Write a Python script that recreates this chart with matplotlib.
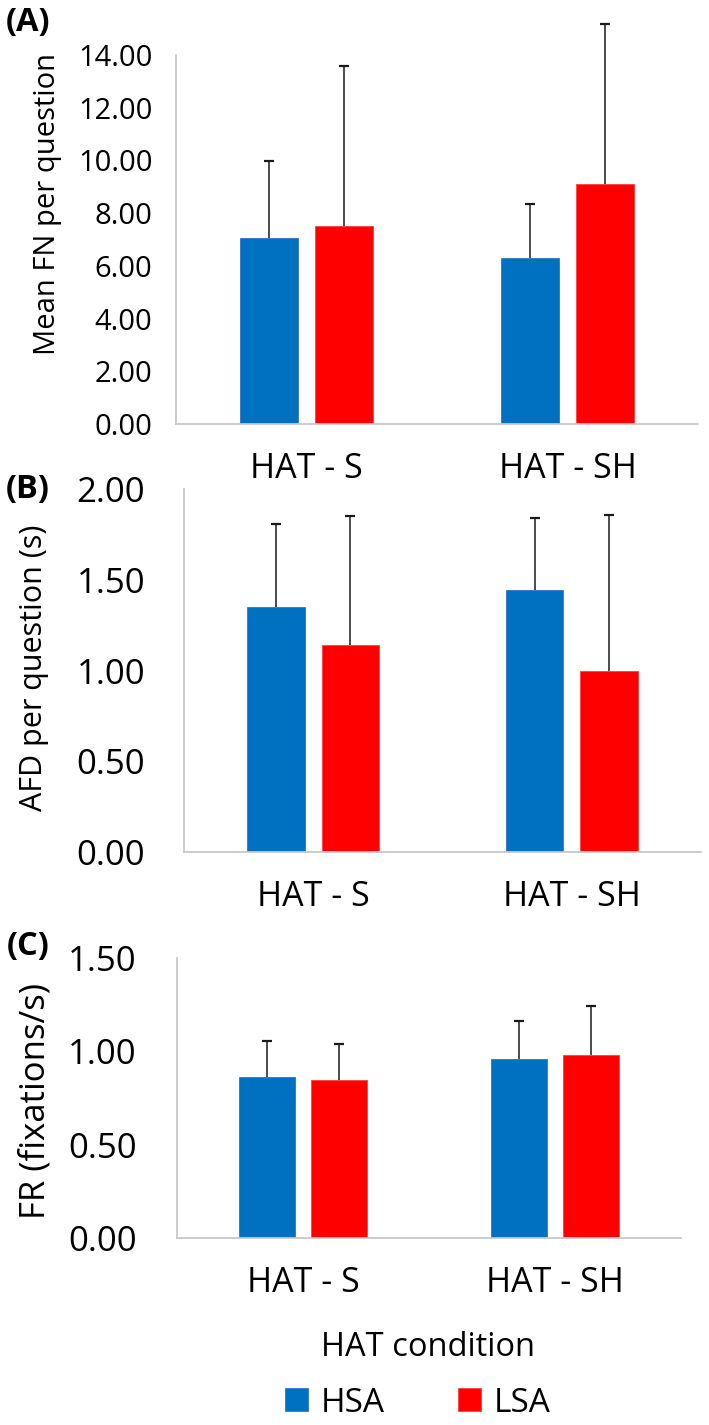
import numpy as np
import matplotlib
matplotlib.use("Agg")
import matplotlib.pyplot as plt

# ---------------- data ----------------
categories = ["HAT - S", "HAT - SH"]
groups = ["HSA", "LSA"]

fn_hsa = [7.05, 6.30]
fn_lsa = [7.53, 9.11]
fn_hsa_sd = [2.91, 2.05]
fn_lsa_sd = [6.06, 6.05]

afd_hsa = [1.351, 1.441]
afd_lsa = [1.138, 1.000]
afd_hsa_sd = [0.455, 0.398]
afd_lsa_sd = [0.712, 0.856]

fr_hsa = [0.861, 0.961]
fr_lsa = [0.848, 0.983]
fr_hsa_sd = [0.192, 0.204]
fr_lsa_sd = [0.190, 0.258]

fn_ticks = [0, 2, 4, 6, 8, 10, 12, 14]
afd_ticks = [0, 0.5, 1.0, 1.5, 2.0]
fr_ticks = [0, 0.5, 1.0, 1.5]

BLUE = "#0070C0"
RED = "#FF0000"
FONT = "Open Sans"
W, H = 709, 1425

fig = plt.figure(figsize=(W / 100, H / 100), dpi=100)


def px_axes(left, right, top, bottom):
    return fig.add_axes([left / W, 1 - bottom / H, (right - left) / W, (bottom - top) / H])


def draw_panel(ax, hsa, lsa, hsa_sd, lsa_sd, ticks, ymax, ytick_size, ytick_pad):
    x = np.arange(len(categories))
    off, bw = 0.144, 0.222
    ax.bar(x - off, hsa, width=bw, color=BLUE, edgecolor="#2E75C8", linewidth=0.6, label=groups[0], zorder=2)
    ax.bar(x + off, lsa, width=bw, color=RED, edgecolor="#FF4040", linewidth=0.6, label=groups[1], zorder=2)
    for xs, h, e in ((x - off, hsa, hsa_sd), (x + off, lsa, lsa_sd)):
        h = np.asarray(h); e = np.asarray(e)
        ax.vlines(xs, h, h + e, color="#1a1a1a", linewidth=1.1, zorder=3, clip_on=False)
        ax.plot(xs, h + e, linestyle="none", marker="_", markersize=7, markeredgewidth=1.6,
                color="#1a1a1a", zorder=3, clip_on=False)
    ax.set_xlim(-0.5, 1.5)
    ax.set_ylim(0, ymax)
    ax.set_yticks(ticks)
    ax.set_yticklabels([f"{t:.2f}" for t in ticks], fontsize=ytick_size, family=FONT)
    ax.set_xticks(x)
    ax.set_xticklabels(categories, fontsize=24.5, family=FONT)
    ax.tick_params(axis="both", length=0)
    ax.tick_params(axis="y", pad=ytick_pad)
    ax.tick_params(axis="x", pad=20)
    for s in ("top", "right"):
        ax.spines[s].set_visible(False)
    for s in ("left", "bottom"):
        ax.spines[s].set_color("#C8C8C8")
        ax.spines[s].set_linewidth(1.3)
    ax.set_facecolor("none")


axA = px_axes(176, 698, 55, 424)
draw_panel(axA, fn_hsa, fn_lsa, fn_hsa_sd, fn_lsa_sd, fn_ticks, 14, 21, 17)

axB = px_axes(184, 701, 489, 852)
draw_panel(axB, afd_hsa, afd_lsa, afd_hsa_sd, afd_lsa_sd, afd_ticks, 2.0, 25, 28)

axC = px_axes(177, 681, 958, 1238)
draw_panel(axC, fr_hsa, fr_lsa, fr_hsa_sd, fr_lsa_sd, fr_ticks, 1.5, 25, 29)

# y labels
fig.text(48 / W, 1 - 204 / H, "Mean FN per question", rotation=90, ha="center", va="center",
         fontsize=21, family=FONT)
fig.text(34 / W, 1 - 668 / H, "AFD per question (s)", rotation=90, ha="center", va="center",
         fontsize=22, family=FONT)
fig.text(36 / W, 1 - 1101 / H, "FR (fixations/s)", rotation=90, ha="center", va="center",
         fontsize=25, family=FONT)

# panel letters
for lab, (px, py) in {"(A)": (28, 22), "(B)": (28, 490), "(C)": (28, 947)}.items():
    fig.text(px / W, 1 - py / H, lab, ha="center", va="center", fontsize=23.5,
             fontweight="bold", family=FONT)

# x axis title
fig.text(428 / W, 1 - 1348 / H, "HAT condition", ha="center", va="center", fontsize=23.5, family=FONT)

# legend
handles, labels = axC.get_legend_handles_labels()
fig.legend(handles, labels, loc="center", bbox_to_anchor=(418 / W, 1 - 1403 / H), ncol=2,
           frameon=False, prop={"family": FONT, "size": 24}, handlelength=0.67, handleheight=0.67,
           handletextpad=0.4, columnspacing=2.2, borderpad=0, borderaxespad=0)

fig.savefig("out.png", dpi=100, facecolor="white")
